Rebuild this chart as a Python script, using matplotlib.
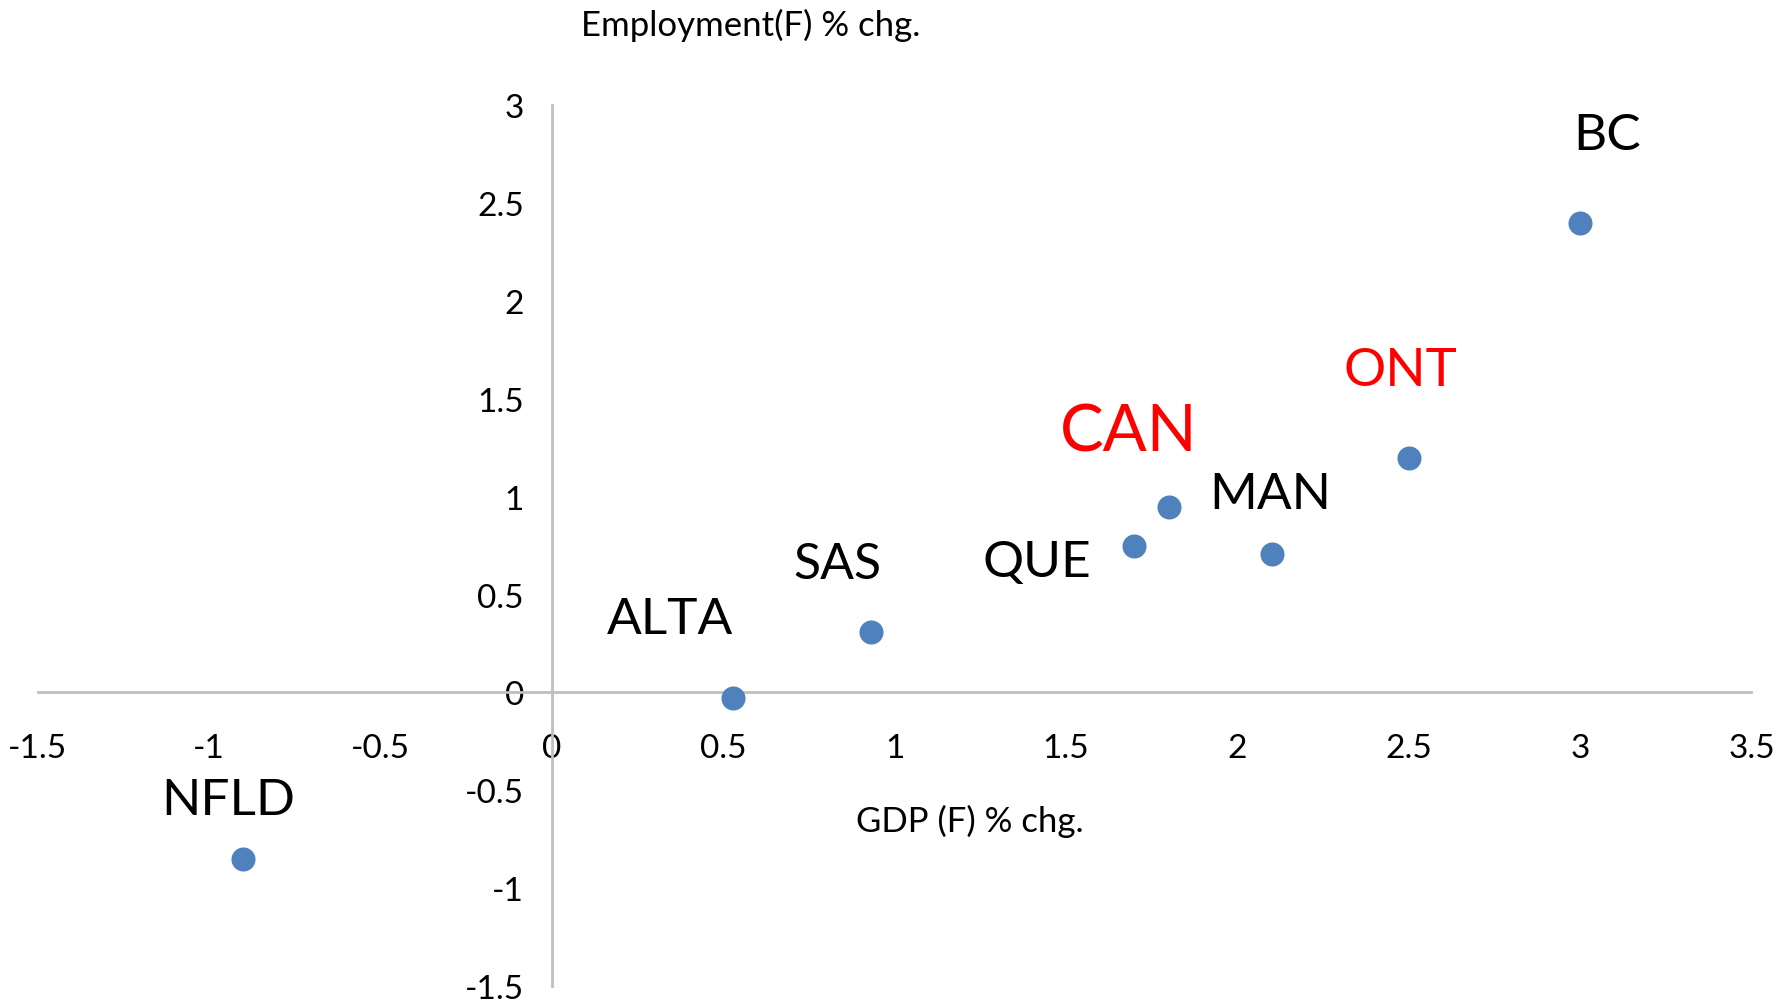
import matplotlib
matplotlib.use("Agg")
import matplotlib.pyplot as plt

regions = ["NFLD", "ALTA", "SAS", "QUE", "CAN", "MAN", "ONT", "BC"]
gdp = [-0.90, 0.53, 0.93, 1.70, 1.80, 2.10, 2.50, 3.00]
emp = [-0.85, -0.03, 0.31, 0.75, 0.95, 0.71, 1.20, 2.40]
label_colors = ["black", "black", "black", "black", "red", "black", "red", "black"]
label_sizes = [37, 37, 36, 37, 47, 37, 38, 37]
label_offsets = [(-15, 59), (-63, 79), (-33, 68), (-98, -16), (-40, 75), (-1, 60), (-8, 87), (27, 88)]
xticks = [-1.5, -1, -0.5, 0, 0.5, 1, 1.5, 2, 2.5, 3, 3.5]
yticks = [-1.5, -1, -0.5, 0, 0.5, 1, 1.5, 2, 2.5, 3]

plt.rcParams['font.family'] = ['Lato', 'DejaVu Sans']

fig = plt.figure(figsize=(17.89, 10.04), dpi=100)
ax = fig.add_axes([0.021, 0.017, 0.958, 0.877])
ax.set_xlim(-1.5, 3.5)
ax.set_ylim(-1.5, 3)

for s in ["top", "right"]:
    ax.spines[s].set_visible(False)
for s in ["left", "bottom"]:
    ax.spines[s].set_position(("data", 0))
    ax.spines[s].set_color("#BFBFBF")
    ax.spines[s].set_linewidth(2)

def fmt(v):
    return ("%g" % v)

ax.set_xticks(xticks)
ax.set_xticklabels([fmt(v) for v in xticks])
ax.set_yticks(yticks)
ax.set_yticklabels([fmt(v) for v in yticks])
ax.tick_params(axis="both", length=0, labelsize=24)
ax.tick_params(axis="x", pad=29)
ax.tick_params(axis="y", pad=20)

ax.scatter(gdp, emp, s=300, color="#4F81BD", zorder=3, linewidths=0)

for name, x, y, c, fs, off in zip(regions, gdp, emp, label_colors, label_sizes, label_offsets):
    ax.annotate(name, (x, y), xytext=off, textcoords="offset pixels",
                ha="center", va="center", color=c, fontsize=fs)

fig.text(751 / 1789, 1 - 25 / 1004, "Employment(F) % chg.", ha="center", va="center", fontsize=25)
fig.text(970 / 1789, 1 - 821 / 1004, "GDP (F) % chg.", ha="center", va="center", fontsize=25)

fig.savefig("out.png", dpi=100)
